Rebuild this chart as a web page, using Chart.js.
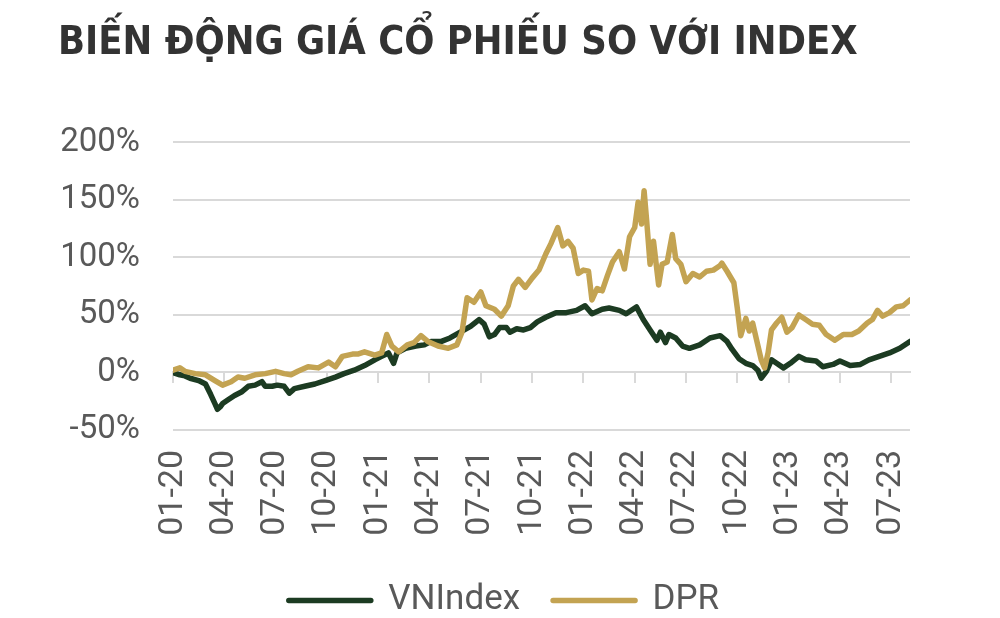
<!DOCTYPE html>
<html>
<head>
<meta charset="utf-8">
<script src="https://cdn.jsdelivr.net/npm/chart.js@4.4.0/dist/chart.umd.min.js"></script>
<style>
  html, body { margin: 0; padding: 0; background: #fff; }
  #wrap { width: 1000px; height: 618px; overflow: hidden; }
</style>
</head>
<body>
<div id="wrap"><canvas id="chart" width="1000" height="618"></canvas></div>
<script>
// chart data (months counted from 01-2020)
const tickMonths = [0, 3, 6, 9, 12, 15, 18, 21, 24, 27, 30, 33, 36, 39, 42];
const tickLabels = ['01-20', '04-20', '07-20', '10-20', '01-21', '04-21', '07-21', '10-21',
                    '01-22', '04-22', '07-22', '10-22', '01-23', '04-23', '07-23'];

const vnMonths = [0, 0.4, 0.7, 1.0, 1.5, 1.9, 2.2, 2.45, 2.6, 2.75, 2.9, 3.2, 3.6, 4.0, 4.4, 4.8,
  5.2, 5.4, 5.8, 6.1, 6.5, 6.8, 7.1, 7.7, 8.3, 8.9, 9.5, 10.0, 10.6, 11.2, 11.8, 12.2, 12.6,
  12.9, 13.1, 13.6, 14.2, 14.7, 15.1, 15.7, 16.2, 16.8, 17.4, 17.9, 18.2, 18.5, 18.8, 19.1,
  19.5, 19.7, 20.1, 20.5, 20.9, 21.3, 21.8, 22.4, 23.0, 23.6, 24.1, 24.5, 25.1, 25.5, 26.1,
  26.5, 27.1, 27.5, 27.9, 28.3, 28.5, 28.8, 29.0, 29.4, 29.8, 30.2, 30.8, 31.4, 32.0, 32.4,
  32.7, 33.1, 33.5, 33.9, 34.2, 34.4, 34.7, 35.0, 35.3, 35.7, 36.1, 36.6, 37.0, 37.6, 38.0,
  38.6, 39.0, 39.6, 40.2, 40.7, 41.3, 41.9, 42.5, 43.1];
const vnValues = [0, -2, -3, -5, -7, -10, -19, -27, -32, -30, -27, -24, -20, -17, -12, -11,
  -8, -12, -12, -11, -12, -18, -14, -12, -10, -7, -4, -1, 2, 6, 11, 14, 17,
  8, 17, 21, 23, 24, 27, 27, 30, 35, 40, 46, 42, 31, 33, 39,
  39, 35, 38, 37, 39, 44, 48, 52, 52, 54, 58, 51, 55, 56, 54,
  51, 57, 46, 37, 28, 35, 26, 33, 30, 23, 21, 24, 30, 32, 27,
  20, 12, 8, 6, 2, -5, 1, 11, 8, 4, 8, 14, 11, 10, 5,
  7, 10, 6, 7, 11, 14, 17, 21, 27];

const dprMonths = [0, 0.4, 0.7, 1.3, 1.9, 2.45, 2.9, 3.4, 3.8, 4.2, 4.8, 5.4, 6.0, 6.5, 6.9,
  7.3, 7.9, 8.5, 9.1, 9.5, 9.9, 10.5, 10.8, 11.2, 11.8, 12.2, 12.5, 12.8, 13.2, 13.7, 14.1,
  14.5, 14.9, 15.5, 16.1, 16.6, 16.9, 17.2, 17.6, 18.0, 18.3, 18.8, 19.2, 19.6, 19.9, 20.2,
  20.6, 21.0, 21.4, 21.8, 22.1, 22.5, 22.8, 23.1, 23.4, 23.7, 24.0, 24.3, 24.5, 24.8, 25.1,
  25.4, 25.7, 26.1, 26.4, 26.7, 27.0, 27.2, 27.4, 27.55, 27.7, 27.9, 28.1, 28.4, 28.6, 28.9,
  29.2, 29.4, 29.7, 30.0, 30.4, 30.8, 31.2, 31.6, 32.0, 32.1, 32.4, 32.8, 33.0, 33.2, 33.5,
  33.7, 33.9, 34.1, 34.4, 34.6, 34.8, 35.0, 35.3, 35.6, 35.9, 36.2, 36.6, 37.0, 37.4, 37.8,
  38.2, 38.7, 39.2, 39.7, 40.1, 40.6, 40.9, 41.2, 41.5, 41.9, 42.3, 42.7, 43.1];
const dprValues = [2, 4, 1, -1, -2, -7, -11, -8, -4, -5, -2, -1, 1, -1, -2,
  1, 5, 4, 9, 5, 14, 16, 16, 18, 15, 17, 33, 23, 18, 24, 26,
  32, 27, 23, 21, 24, 35, 65, 61, 70, 58, 55, 49, 58, 75, 81,
  74, 82, 89, 103, 112, 126, 110, 114, 108, 86, 89, 88, 63, 73, 71,
  84, 96, 105, 90, 118, 126, 148, 129, 158, 132, 94, 114, 76, 94, 96,
  120, 99, 94, 79, 86, 83, 88, 89, 93, 95, 88, 78, 56, 32, 47,
  36, 43, 30, 11, 4, 17, 37, 43, 48, 35, 39, 50, 46, 42, 41,
  33, 28, 33, 33, 36, 43, 46, 54, 49, 52, 57, 58, 63];

const GREEN = '#1c3b22';
const GOLD = '#c3a352';
const GRID = '#d9d9d9';
const TEXT = '#595959';

const toPoints = (xs, ys) => xs.map((m, i) => ({ x: m, y: ys[i] }));
const quarterTicks = (scale) => { scale.ticks = tickMonths.map(v => ({ value: v })); };

const ctx = document.getElementById('chart').getContext('2d');
const myChart = new Chart(ctx, {
  type: 'line',
  data: {
    datasets: [
      {
        label: 'VNIndex',
        data: toPoints(vnMonths, vnValues),
        borderColor: GREEN,
        backgroundColor: GREEN,
        borderWidth: 5.5,
        pointRadius: 0,
        borderJoinStyle: 'round',
        borderCapStyle: 'round',
        order: 1
      },
      {
        label: 'DPR',
        data: toPoints(dprMonths, dprValues),
        borderColor: GOLD,
        backgroundColor: GOLD,
        borderWidth: 5.5,
        pointRadius: 0,
        borderJoinStyle: 'round',
        borderCapStyle: 'round',
        order: 0  // gold line on top
      }
    ]
  },
  options: {
    responsive: false,
    animation: false,
    layout: { padding: { left: 58, right: 50, top: 20, bottom: -10 } },
    scales: {
      x: {
        type: 'linear',
        min: 0,
        max: 43.1,
        position: { y: 0 },
        afterBuildTicks: quarterTicks,
        ticks: { display: false },
        grid: { drawOnChartArea: false, drawTicks: true, tickLength: 10, color: GRID, lineWidth: 2 },
        border: { color: GRID, width: 2 }
      },
      x2: {
        type: 'linear',
        min: 0,
        max: 43.1,
        position: 'bottom',
        afterBuildTicks: quarterTicks,
        afterFit: (scale) => { scale.height = 120; },
        grid: { display: false },
        border: { display: false },
        ticks: {
          minRotation: 90,
          maxRotation: 90,
          padding: 12,
          color: TEXT,
          font: { family: 'Roboto', size: 34 },
          callback: (v) => tickLabels[tickMonths.indexOf(v)]
        }
      },
      y: {
        min: -50,
        max: 200,
        afterFit: (scale) => { scale.width = 115; },
        ticks: {
          stepSize: 50,
          padding: 33,
          color: TEXT,
          font: { family: 'Roboto', size: 33 },
          callback: (v) => v + '%'
        },
        grid: { color: GRID, lineWidth: 2, drawTicks: false },
        border: { display: false }
      },
      // empty right-hand margin axis so the legend centres like the original
      yRight: {
        position: 'right',
        min: -50,
        max: 200,
        afterFit: (scale) => { scale.width = 40; },
        ticks: { display: false },
        grid: { display: false },
        border: { display: false }
      }
    },
    plugins: {
      title: {
        display: true,
        text: 'BIẾN ĐỘNG GIÁ CỔ PHIẾU SO VỚI INDEX',
        align: 'start',
        color: '#333333',
        font: { family: "'DejaVu Sans Condensed', sans-serif", size: 39.5, weight: 'bold' },
        padding: { top: 0, bottom: 75 }
      },
      legend: {
        position: 'bottom',
        labels: {
          sort: (a, b) => a.datasetIndex - b.datasetIndex,
          boxWidth: 82,
          boxHeight: 0,
          padding: 33,
          color: TEXT,
          font: { family: 'Roboto', size: 35 }
        }
      },
      tooltip: { enabled: false }
    }
  }
});
</script>
</body>
</html>
